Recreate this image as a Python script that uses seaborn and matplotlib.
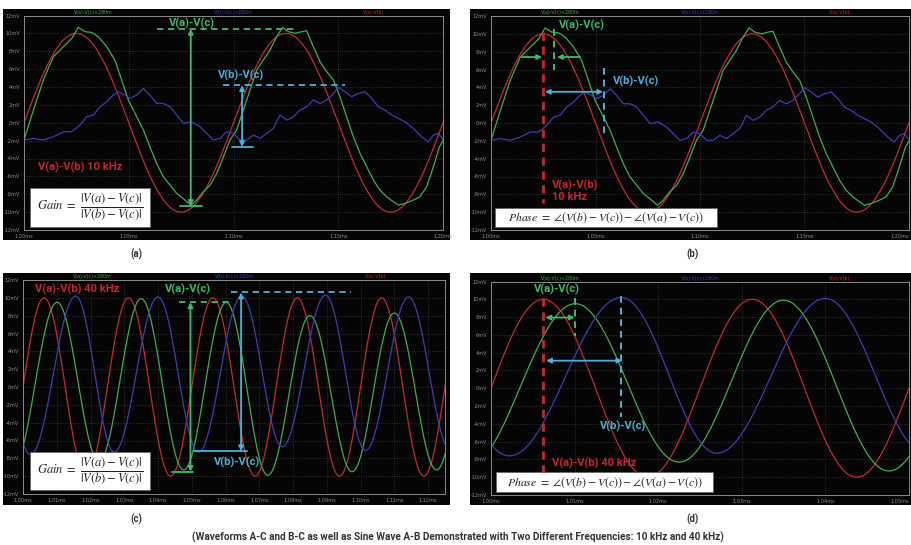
import numpy as np
import pandas as pd
import matplotlib
matplotlib.use("Agg")
import matplotlib.pyplot as plt
from matplotlib.patches import Rectangle
import seaborn as sns

sns.set_theme(style="dark")
plt.rcParams["font.family"] = ["DejaVu Sans"]
plt.rcParams["mathtext.fontset"] = "stix"

# ---------------- 10 kHz capture (time in ms, voltage in mV) ----------------
# V(a)-V(b): clean sine, successive peaks/troughs
red10_t = [0.975, 1.025, 1.075, 1.125, 1.175, 1.225]
red10_v = [-10.0, 10.0, -10.0, 10.0, -10.0, 10.0]

# V(a)-V(c): distorted trace, sampled along the curve
green10_t = [1.0000, 1.0045, 1.0092, 1.0140, 1.0188, 1.0228, 1.0259, 1.0291, 1.0323,
             1.0355, 1.0395, 1.0434, 1.0466, 1.0498, 1.0538, 1.0570, 1.0601, 1.0633,
             1.0665, 1.0697, 1.0729, 1.0769, 1.0796, 1.0824, 1.0856, 1.0888, 1.0920,
             1.0952, 1.0983, 1.1015, 1.1047, 1.1079, 1.1111, 1.1142, 1.1174, 1.1206,
             1.1235, 1.1262, 1.1294, 1.1325, 1.1349, 1.1381, 1.1413, 1.1445, 1.1477,
             1.1508, 1.1540, 1.1572, 1.1604, 1.1636, 1.1668, 1.1699, 1.1731, 1.1763,
             1.1787, 1.1819, 1.1858, 1.1890, 1.1922, 1.1954, 1.1983, 1.2002]
green10_v = [-1.94, 1.42, 4.78, 7.39, 8.51, 9.44, 10.67, 10.19, 10.11,
             9.63, 8.51, 7.01, 4.78, 2.54, 0.67, -0.82, -2.69, -4.55,
             -6.04, -6.98, -7.91, -8.66, -9.22, -8.66, -7.72, -6.98, -5.67,
             -3.81, -1.94, -0.82, 1.42, 3.66, 5.90, 7.01, 8.13, 9.63,
             10.67, 10.19, 10.00, 10.19, 10.30, 8.51, 6.83, 5.71, 4.78,
             2.91, 0.67, -1.57, -3.43, -4.93, -6.42, -7.54, -8.28, -8.84,
             -9.22, -9.03, -8.66, -8.28, -7.16, -4.93, -2.69, -1.94]

# V(b)-V(c): low-level wobbly trace, sampled along the curve
blue10_t = [1.0000, 1.0045, 1.0092, 1.0140, 1.0188, 1.0228, 1.0267, 1.0299, 1.0331,
            1.0363, 1.0395, 1.0426, 1.0450, 1.0482, 1.0506, 1.0538, 1.0570, 1.0601,
            1.0633, 1.0665, 1.0697, 1.0729, 1.0761, 1.0800, 1.0840, 1.0872, 1.0904,
            1.0936, 1.0967, 1.0999, 1.1031, 1.1063, 1.1095, 1.1127, 1.1158, 1.1190,
            1.1222, 1.1254, 1.1286, 1.1317, 1.1349, 1.1381, 1.1413, 1.1445, 1.1477,
            1.1500, 1.1532, 1.1564, 1.1596, 1.1628, 1.1660, 1.1691, 1.1723, 1.1755,
            1.1787, 1.1819, 1.1858, 1.1898, 1.1930, 1.1954, 1.1978, 1.2002]
blue10_v = [-1.94, -1.75, -1.94, -1.57, -1.01, -1.01, -0.26, 0.67, 0.86,
            1.79, 2.35, 3.10, 3.47, 3.10, 2.72, 3.10, 3.84, 3.10,
            2.16, 2.16, 1.79, 0.86, -0.07, 0.11, -0.45, -1.19, -1.94,
            -1.75, -1.01, -1.19, -1.94, -1.94, -1.38, -1.75, -1.19, -0.63,
            0.86, 0.30, 0.67, 1.42, 1.79, 2.54, 2.16, 2.54, 3.28,
            3.96, 3.47, 2.91, 3.28, 3.47, 2.72, 1.79, 1.42, 0.86,
            0.49, 0.11, -0.63, -1.57, -2.13, -1.38, -1.19, -1.94]

# ---------------- 40 kHz capture: successive peaks / troughs ----------------
red40_t = [0.99375, 1.00625, 1.01875, 1.03125, 1.04375, 1.05625, 1.06875,
           1.08125, 1.09375, 1.10625, 1.11875, 1.13125]
red40_v = [-10.0, 10.0, -10.0, 10.0, -10.0, 10.0, -10.0, 10.0, -10.0, 10.0, -10.0, 10.0]

green40_t = [0.9970, 1.0101, 1.0225, 1.0350, 1.0476, 1.0602, 1.0725, 1.0850,
             1.0975, 1.1100, 1.1225, 1.1350]
green40_v = [-9.0, 9.5, -8.3, 9.9, -9.3, 9.5, -9.9, 8.0, -9.5, 8.3, -9.3, 9.0]

blue40_t = [0.9897, 1.0022, 1.0156, 1.0270, 1.0400, 1.0520, 1.0648, 1.0768,
            1.0896, 1.1015, 1.1142, 1.1265, 1.1390]
blue40_v = [10.1, -7.6, 10.2, -7.3, 10.1, -7.3, 10.2, -6.7, 10.3, -7.1, 10.1, -7.0, 10.0]

yticks = list(range(-12, 13, 2))
ytick_labels = [f"{v}mV" for v in yticks]

RED, GREEN, BLUE = "#c42a2a", "#3fae49", "#3c3cb4"
A_GREEN, A_CYAN, A_RED = "#3dba6c", "#4cb0dc", "#c8262e"
W, H = 912, 545


def sine_between_extrema(ts, vs, n=60):
    """Join successive peaks/troughs with half-cosine arcs."""
    out_t, out_v = [], []
    for t0, v0, t1, v1 in zip(ts[:-1], vs[:-1], ts[1:], vs[1:]):
        s = np.linspace(0, 1, n, endpoint=False)
        out_t.append(t0 + (t1 - t0) * s)
        out_v.append(v0 + (v1 - v0) * (1 - np.cos(np.pi * s)) / 2)
    out_t.append([ts[-1]])
    out_v.append([vs[-1]])
    return np.concatenate(out_t), np.concatenate(out_v)


def frame(name, t, v):
    return pd.DataFrame({"t": t, "v": v, "trace": name})


rt, rv = sine_between_extrema(red10_t, red10_v)
df10 = pd.concat([frame("V(a)-V(b)", rt, rv),
                  frame("V(a)-V(c)", green10_t, green10_v),
                  frame("V(b)-V(c)", blue10_t, blue10_v)])
parts = []
for name, ts, vs in [("V(a)-V(b)", red40_t, red40_v),
                     ("V(a)-V(c)", green40_t, green40_v),
                     ("V(b)-V(c)", blue40_t, blue40_v)]:
    a, b = sine_between_extrema(ts, vs)
    parts.append(frame(name, a, b))
df40 = pd.concat(parts)
palette = {"V(a)-V(b)": RED, "V(a)-V(c)": GREEN, "V(b)-V(c)": BLUE}


def box(px0, py0, px1, py1):
    return [px0 / W, 1 - py1 / H, (px1 - px0) / W, (py1 - py0) / H]


fig = plt.figure(figsize=(W / 100, H / 100), dpi=100, facecolor="white")

panels = {
    "a": dict(black=(3, 9, 450, 240), plot=(24, 15.5, 443, 230), xlim=(1.0, 1.2), step=0.05),
    "b": dict(black=(470, 9, 913, 240), plot=(491, 16, 909, 230), xlim=(1.0, 1.2), step=0.05),
    "c": dict(black=(3, 273, 450, 505), plot=(23, 280, 445, 494), xlim=(1.0, 1.125), step=0.01),
    "d": dict(black=(470, 273, 913, 505), plot=(491, 281.5, 909, 495), xlim=(1.0, 1.05), step=0.01),
}
axes = {}
for key, p in panels.items():
    bx0, by0, bx1, by1 = p["black"]
    fig.add_artist(Rectangle((bx0 / W, 1 - by1 / H), (bx1 - bx0) / W, (by1 - by0) / H,
                             transform=fig.transFigure, facecolor="#050505",
                             edgecolor="none", zorder=0))
    ax = fig.add_axes(box(*p["plot"]))
    ax.set_facecolor("#050505")
    data = df10 if key in "ab" else df40
    sns.lineplot(data=data, x="t", y="v", hue="trace", palette=palette,
                 estimator=None, sort=False, legend=False, linewidth=0.9, ax=ax)
    ax.set_xlim(*p["xlim"])
    ax.set_ylim(-12, 12)
    xt = np.round(np.arange(p["xlim"][0], p["xlim"][1] + 1e-9, p["step"]), 3)
    ax.set_xticks(xt)
    ax.set_xticklabels([f"{x:.2f}ms" for x in xt])
    ax.set_yticks(yticks)
    ax.set_yticklabels(ytick_labels)
    ax.tick_params(axis="both", labelsize=3.6, colors="#8c8c8c", length=2, width=0.5, pad=1)
    if key in "bd":
        # the last time label sits on the page edge
        ax.get_xticklabels()[-1].set_horizontalalignment("right")
    ax.set_xlabel("")
    ax.set_ylabel("")
    ax.grid(True, color="#3a3a3a", linestyle=":", linewidth=0.6)
    for s in ax.spines.values():
        s.set_color("#8a8a8a")
        s.set_linewidth(0.7)
        s.set_visible(True)
    # trace names along the top margin
    for frac, name in [(0.165, "V(a)-V(c)+280m"), (0.5, "V(b)-V(c)+280m"), (0.835, "V(a)-V(b)")]:
        ax.text(frac, 1.004, name, transform=ax.transAxes, ha="center", va="bottom",
                fontsize=3.4, color=palette[name.split("+")[0]])
    axes[key] = ax

bold = dict(family=["Roboto", "DejaVu Sans"], fontweight="bold", fontsize=8)
dash = (0, (3.5, 2.5))


def arrow(ax, x0, y0, x1, y1, color):
    ax.annotate("", xy=(x1, y1), xytext=(x0, y0),
                arrowprops=dict(arrowstyle="<|-|>", color=color, lw=1.3,
                                mutation_scale=7, shrinkA=0, shrinkB=0))


def one_arrow(ax, x0, y0, x1, y1, color):
    ax.annotate("", xy=(x1, y1), xytext=(x0, y0),
                arrowprops=dict(arrowstyle="-|>", color=color, lw=1.3,
                                mutation_scale=7, shrinkA=0, shrinkB=0))


def formula_box(ax, x0, x1, y0, y1, text, size):
    ax.add_patch(Rectangle((x0, y0), x1 - x0, y1 - y0, facecolor="white",
                           edgecolor="#666666", linewidth=0.6, zorder=5))
    ax.text((x0 + x1) / 2, (y0 + y1) / 2, text, ha="center", va="center",
            fontsize=size, color="#222222", zorder=6)


gain = r"$\mathit{Gain}\ =\ \dfrac{|V(a)-V(c)|}{|V(b)-V(c)|}$"
phase = r"$\mathit{Phase}\ =\ \angle(V(b)-V(c))-\angle(V(a)-V(c))$"

# (a) amplitude comparison at 10 kHz
ax = axes["a"]
ax.text(1.080, 11.15, "V(a)-V(c)", color=A_GREEN, ha="center", va="center", **bold)
ax.plot([1.0635, 1.1303], [10.5, 10.5], color=A_GREEN, ls=dash, lw=1.3)
arrow(ax, 1.0796, 10.5, 1.0796, -9.3, A_GREEN)
ax.plot([1.0745, 1.0850], [-9.3, -9.3], color=A_GREEN, lw=1.3)
ax.text(1.1038, 5.25, "V(b)-V(c)", color=A_CYAN, ha="center", va="center", **bold)
ax.plot([1.0950, 1.1532], [4.2, 4.2], color=A_CYAN, ls=dash, lw=1.3)
arrow(ax, 1.1041, 4.2, 1.1041, -2.7, A_CYAN)
ax.plot([1.0993, 1.1093], [-2.7, -2.7], color=A_CYAN, lw=1.3)
ax.text(1.0067, -4.95, "V(a)-V(b) 10 kHz", color=A_RED, ha="left", va="center", **bold)
formula_box(ax, 1.0029, 1.0601, -11.66, -7.30, gain, 9)

# (b) phase comparison at 10 kHz
ax = axes["b"]
ax.text(1.0435, 11.0, "V(a)-V(c)", color=A_GREEN, ha="center", va="center", **bold)
ax.plot([1.0301, 1.0301], [10.5, 5.9], color=A_GREEN, ls=dash, lw=1.4)
one_arrow(ax, 1.0148, 7.4, 1.0244, 7.4, A_GREEN)
one_arrow(ax, 1.0426, 7.4, 1.0316, 7.4, A_GREEN)
ax.plot([1.025, 1.025], [10.2, -9.0], color=A_RED, ls=(0, (3, 2)), lw=2.0)
ax.text(1.0292, -6.95, "V(a)-V(b)", color=A_RED, ha="left", va="center", **bold)
ax.text(1.0292, -8.3, "10 kHz", color=A_RED, ha="left", va="center", **bold)
ax.plot([1.0541, 1.0541], [6.2, -1.6], color=A_CYAN, ls=dash, lw=1.4)
arrow(ax, 1.0258, 3.5, 1.0536, 3.5, A_CYAN)
ax.text(1.0584, 4.7, "V(b)-V(c)", color=A_CYAN, ha="left", va="center", **bold)
formula_box(ax, 1.0019, 1.1081, -11.66, -9.53, phase, 8.5)

# (c) amplitude comparison at 40 kHz
ax = axes["c"]
ax.text(1.0035, 10.9, "V(a)-V(b) 40 kHz", color=A_RED, ha="left", va="center", **bold)
ax.text(1.0490, 10.9, "V(a)-V(c)", color=A_GREEN, ha="center", va="center", **bold)
ax.plot([1.0463, 1.0619], [9.5, 9.5], color=A_GREEN, ls=dash, lw=1.3)
arrow(ax, 1.0496, 9.5, 1.0496, -9.5, A_GREEN)
ax.plot([1.0442, 1.0504], [-9.5, -9.5], color=A_GREEN, lw=1.3)
ax.plot([1.0617, 1.0973], [10.6, 10.6], color=A_CYAN, ls=dash, lw=1.3)
arrow(ax, 1.0646, 10.6, 1.0646, -7.2, A_CYAN)
ax.plot([1.0507, 1.0664], [-7.2, -7.2], color=A_CYAN, lw=1.3)
ax.text(1.0633, -8.4, "V(b)-V(c)", color=A_CYAN, ha="center", va="center", **bold)
formula_box(ax, 1.0021, 1.0375, -11.55, -7.29, gain, 9)

# (d) phase comparison at 40 kHz
ax = axes["d"]
ax.text(1.0079, 11.1, "V(a)-V(c)", color=A_GREEN, ha="center", va="center", **bold)
ax.plot([1.0101, 1.0101], [10.2, 5.9], color=A_GREEN, ls=dash, lw=1.4)
arrow(ax, 1.0065, 7.95, 1.0100, 7.95, A_GREEN)
ax.plot([1.00625, 1.00625], [10.2, -9.6], color=A_RED, ls=(0, (3, 2)), lw=2.0)
ax.plot([1.0156, 1.0156], [10.4, -3.2], color=A_CYAN, ls=dash, lw=1.4)
arrow(ax, 1.0066, 3.1, 1.0157, 3.1, A_CYAN)
ax.text(1.0158, -4.3, "V(b)-V(c)", color=A_CYAN, ha="center", va="center", **bold)
ax.text(1.0073, -8.45, "V(a)-V(b) 40 kHz", color=A_RED, ha="left", va="center", **bold)
formula_box(ax, 1.0006, 1.0266, -11.7, -9.45, phase, 8.5)

# panel letters and caption
lab = dict(family=["Roboto", "DejaVu Sans"], fontweight="bold", fontsize=7,
           color="#333333", ha="center", va="center")
fig.text(136 / W, 1 - 254 / H, "(a)", **lab)
fig.text(693 / W, 1 - 254 / H, "(b)", **lab)
fig.text(136 / W, 1 - 519 / H, "(c)", **lab)
fig.text(693 / W, 1 - 519 / H, "(d)", **lab)
fig.text(458 / W, 1 - 537 / H,
         "(Waveforms A-C and B-C as well as Sine Wave A-B Demonstrated with Two "
         "Different Frequencies: 10 kHz and 40 kHz)",
         family=["Roboto", "DejaVu Sans"], fontweight="bold", fontsize=7.2,
         color="#333333", ha="center", va="center")

fig.savefig("out.png", dpi=100, facecolor="white")
